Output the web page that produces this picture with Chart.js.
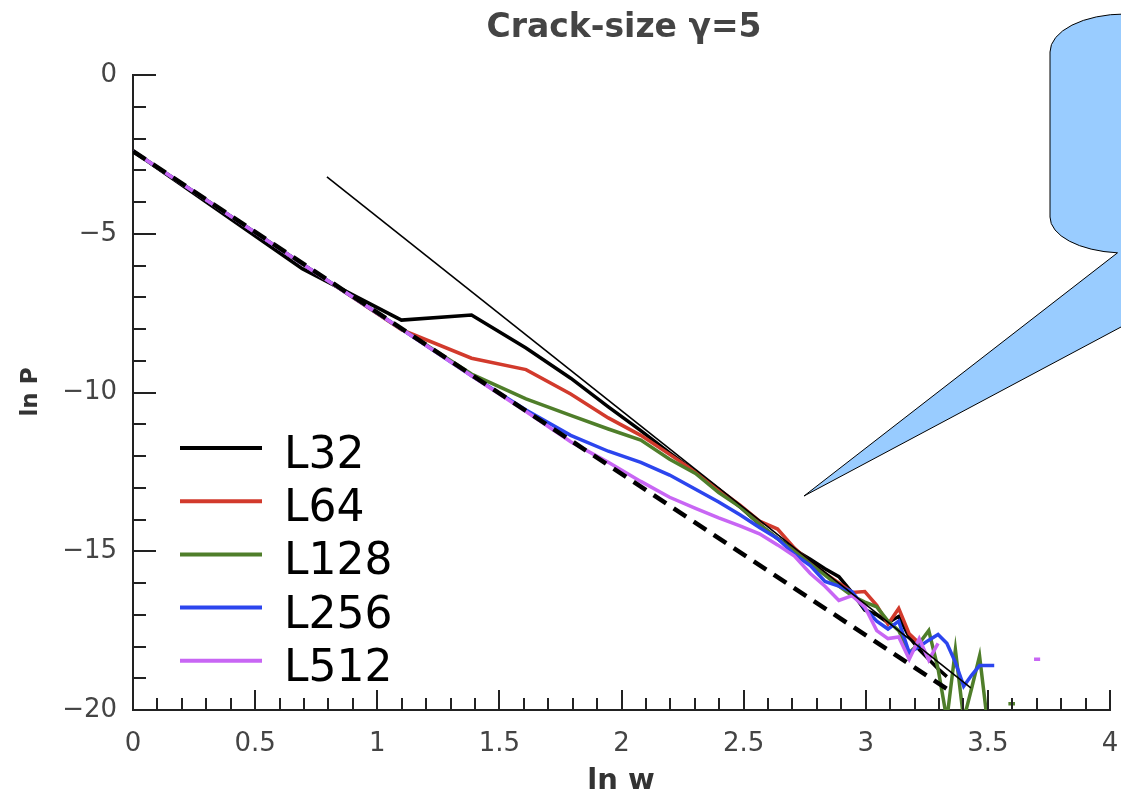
<!DOCTYPE html>
<html>
<head>
<meta charset="utf-8">
<script src="https://cdn.jsdelivr.net/npm/chart.js@4.4.0/dist/chart.umd.min.js"></script>
<style>
  html, body { margin: 0; padding: 0; background: #fff; }
  #wrap { width: 1121px; height: 801px; }
</style>
</head>
<body>
<div id="wrap"><canvas id="chart" width="1121" height="801"></canvas></div>
<script>
// ln w for w = 1 .. 42
const lnW = [0, 0.693, 1.099, 1.386, 1.609, 1.792, 1.946, 2.079, 2.197, 2.303,
  2.398, 2.485, 2.565, 2.639, 2.708, 2.773, 2.833, 2.890, 2.944, 2.996,
  3.045, 3.091, 3.135, 3.178, 3.219, 3.258, 3.296, 3.332, 3.367, 3.401,
  3.434, 3.466, 3.497, 3.526, 3.555, 3.584, 3.611, 3.638, 3.664, 3.689,
  3.714, 3.738];

// ln P per system size (null = no data)
const L32 = [-2.4, -6.1, -7.72, -7.56, -8.6, -9.55, -10.45, -11.2, -11.9, -12.5,
  -13.05, -13.6, -14.15, -14.6, -14.95, -15.25, -15.55, -15.8, -16.3, -16.85,
  -17.0, -17.25, -17.05, -17.7, -18.1, -18.4, -18.7, -18.95, null, null,
  null, null, null, null, null, null, null, null, null, null, null, null];
const L64 = [-2.4, -5.95, -8.02, -8.92, -9.28, -10.05, -10.8, -11.35, -11.95, -12.5,
  -13.05, -13.55, -14.05, -14.3, -14.9, -15.35, -15.7, -16.0, -16.3, -16.27,
  -16.7, -17.3, -16.8, -17.6, -17.9, null, null, null, null, null,
  null, null, null, null, null, null, null, null, null, null, null, null];
const L128 = [-2.4, -5.95, -8.0, -9.42, -10.2, -10.72, -11.15, -11.5, -12.1, -12.55,
  -13.15, -13.6, -14.15, -14.6, -15.0, -15.4, -15.75, -16.1, -16.4, -16.6,
  -16.75, -17.2, -17.5, -18.2, -17.9, -17.5, -18.7, -20.3, -18.1, -20.3,
  -19.3, -18.3, -20.3, null, null, -19.8, -19.8, null, null, null, null, null];
const L256 = [-2.4, -5.95, -8.0, -9.47, -10.55, -11.35, -11.85, -12.2, -12.6, -13.05,
  -13.45, -13.85, -14.25, -14.6, -15.1, -15.45, -15.95, -16.1, -16.27, -16.8,
  -17.2, -17.45, -17.2, -18.2, -18.0, -17.8, -17.62, -17.9, -18.5, -19.25,
  -18.9, -18.6, -18.6, -18.6, null, null, null, null, null, null, null, null];
const L512 = [-2.4, -5.95, -8.0, -9.47, -10.6, -11.55, -12.2, -12.8, -13.3, -13.65,
  -13.95, -14.2, -14.45, -14.8, -15.15, -15.7, -16.1, -16.55, -16.4, -16.75,
  -17.5, -17.75, -17.7, -18.4, -17.75, -18.43, -17.9, null, null, null,
  null, null, null, null, null, null, null, null, null, -18.4, -18.4, null];

// reference lines
const dashX = [0, 3.335];
const dashY = [-2.4, -19.35];
const fitX = [0.794, 3.43];
const fitY = [-3.21, -19.3];

const seriesNames = ['L32', 'L64', 'L128', 'L256', 'L512'];
const seriesData = [L32, L64, L128, L256, L512];
const seriesColors = ['#000000', '#d23a2c', '#4f7e2a', '#2c45ee', '#c866f4'];

const xTicks = [0, 0.5, 1, 1.5, 2, 2.5, 3, 3.5, 4];
const yTicks = [0, -5, -10, -15, -20];

const pts = (xs, ys) => xs.map((x, i) => ({ x: x, y: ys[i] }));

const datasets = seriesNames.map((name, i) => ({
  label: name,
  data: pts(lnW, seriesData[i]),
  borderColor: seriesColors[i],
  borderWidth: 3.5,
  order: 6 - i,
}));
datasets.push({
  label: 'dashed',
  data: pts(dashX, dashY),
  borderColor: '#000',
  borderWidth: 4.5,
  borderDash: [15, 9],
  order: 0,
});
datasets.push({
  label: 'fit',
  data: pts(fitX, fitY),
  borderColor: '#000',
  borderWidth: 1.6,
  order: 1,
});

// no extra room for half-labels at the axis ends
const noPad = (s) => { s.paddingLeft = 0; s.paddingRight = 0; s.paddingTop = 0; s.paddingBottom = 0; };

// inward ticks, labels, legend and callout
const decor = {
  id: 'decor',
  afterDraw(chart) {
    const { ctx, chartArea: a, scales: { x, y } } = chart;
    ctx.save();
    ctx.strokeStyle = '#222';
    ctx.lineWidth = 2;
    for (let i = 0; i <= 40; i++) {
      const px = Math.round(x.getPixelForValue(i / 10));
      const len = i % 5 === 0 ? 20 : 12;
      ctx.beginPath();
      ctx.moveTo(px, a.bottom);
      ctx.lineTo(px, a.bottom - len);
      ctx.stroke();
    }
    for (let i = 0; i <= 20; i++) {
      const py = Math.round(y.getPixelForValue(-i));
      const len = i % 5 === 0 ? 23 : 13;
      ctx.beginPath();
      ctx.moveTo(a.left, py);
      ctx.lineTo(a.left + len, py);
      ctx.stroke();
    }

    // title + axis names
    ctx.fillStyle = '#444';
    ctx.textAlign = 'center';
    ctx.textBaseline = 'middle';
    ctx.font = 'bold 33px "DejaVu Sans"';
    ctx.fillText('Crack-size γ=5', 624, 28);
    ctx.fillStyle = '#333';
    ctx.font = 'bold 29px "DejaVu Sans"';
    ctx.fillText('ln w', 621, 781);
    ctx.font = 'bold 23px "DejaVu Sans"';
    ctx.save();
    ctx.translate(31, 392);
    ctx.rotate(-Math.PI / 2);
    ctx.fillText('ln P', 0, 0);
    ctx.restore();

    // legend
    ctx.textAlign = 'left';
    ctx.textBaseline = 'alphabetic';
    ctx.font = '44px "DejaVu Sans"';
    ctx.lineWidth = 4;
    seriesNames.forEach((name, i) => {
      const ry = 448 + i * 53.2;
      ctx.strokeStyle = seriesColors[i];
      ctx.beginPath();
      ctx.moveTo(180, ry);
      ctx.lineTo(262, ry);
      ctx.stroke();
      ctx.fillStyle = '#000';
      ctx.fillText(name, 284, ry + 20);
    });

    // speech bubble
    ctx.beginPath();
    ctx.moveTo(1200, 14);
    ctx.lineTo(1125, 14);
    ctx.ellipse(1125, 52, 75, 38, 0, -Math.PI / 2, Math.PI, true);
    ctx.lineTo(1050, 217);
    ctx.ellipse(1125, 217, 75, 36, 0, Math.PI, Math.PI / 2 + 0.1, true);
    ctx.lineTo(804, 496);
    ctx.lineTo(1121, 327);
    ctx.lineTo(1200, 285);
    ctx.closePath();
    ctx.fillStyle = '#99ccff';
    ctx.fill();
    ctx.strokeStyle = '#000';
    ctx.lineWidth = 1;
    ctx.stroke();
    ctx.restore();
  }
};

new Chart(document.getElementById('chart').getContext('2d'), {
  type: 'line',
  data: { datasets },
  options: {
    responsive: false,
    animation: false,
    layout: { padding: { top: 75, right: 11, left: 0, bottom: 0 } },
    elements: { point: { radius: 0 }, line: { tension: 0 } },
    plugins: {
      legend: { display: false },
      tooltip: { enabled: false },
    },
    scales: {
      x: {
        type: 'linear',
        min: 0,
        max: 4,
        afterBuildTicks: (s) => { s.ticks = xTicks.map(v => ({ value: v })); },
        ticks: {
          font: { family: 'DejaVu Sans', size: 26 },
          color: '#444',
          padding: 19,
          maxRotation: 0,
          autoSkip: false,
          callback: (v) => String(v),
        },
        grid: { display: true, drawOnChartArea: false, drawTicks: false },
        border: { display: true, color: '#222', width: 2 },
        afterFit: (s) => { s.height = 91; noPad(s); },
      },
      y: {
        type: 'linear',
        min: -20,
        max: 0,
        afterBuildTicks: (s) => { s.ticks = yTicks.map(v => ({ value: v })); },
        ticks: {
          font: { family: 'DejaVu Sans', size: 26 },
          color: '#444',
          padding: 16,
          callback: (v) => String(v).replace('-', '\u2212'),
        },
        grid: { display: true, drawOnChartArea: false, drawTicks: false },
        border: { display: true, color: '#222', width: 2 },
        afterFit: (s) => { s.width = 133; noPad(s); },
      },
    },
  },
  plugins: [decor],
});
</script>
</body>
</html>
